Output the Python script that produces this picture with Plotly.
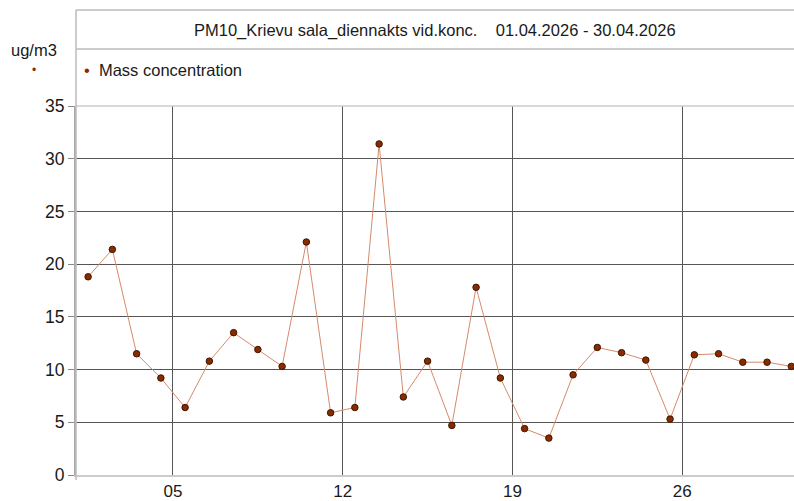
import plotly.graph_objects as go

days = list(range(1, 31))
dates = [f"2026-04-{d:02d} 12:00" for d in days]
values = [18.8, 21.4, 11.5, 9.2, 6.4, 10.8, 13.5, 11.9, 10.3, 22.1,
          5.9, 6.4, 31.4, 7.4, 10.8, 4.7, 17.8, 9.2, 4.4, 3.5,
          9.5, 12.1, 11.6, 10.9, 5.3, 11.4, 11.5, 10.7, 10.7, 10.3]
y_ticks = [0, 5, 10, 15, 20, 25, 30, 35]
title_text = "PM10_Krievu sala_diennakts vid.konc.\u00a0\u00a0\u00a0\u00a001.04.2026 - 30.04.2026"
series_name = "Mass concentration"
unit_label = "ug/m3"

W, H = 794, 501
L, R, T, B = 76, 0, 106, 26
FONT = "Liberation Sans, Arial, sans-serif"
MARKER = "#8a2a00"

fig = go.Figure()
fig.add_trace(go.Scatter(
    x=dates, y=values, mode="lines+markers", name=series_name,
    line=dict(color="#d58a6c", width=1),
    marker=dict(color=MARKER, size=6.5, line=dict(color="#3b1600", width=1)),
    cliponaxis=False, showlegend=False,
))

fig.update_layout(
    width=W, height=H,
    margin=dict(l=L, r=R, t=T, b=B),
    paper_bgcolor="white", plot_bgcolor="white",
    font=dict(family=FONT, size=16, color="#1a1a1a"),
    showlegend=False,
    xaxis=dict(
        type="date",
        range=["2026-04-01 00:00", "2026-04-30 14:40"],
        tick0="2026-04-05", dtick=7 * 24 * 3600 * 1000,
        tickformat="%d",
        showgrid=True, gridcolor="#555555", gridwidth=1,
        showline=True, linecolor="#cccccc", linewidth=2,
        ticks="", zeroline=False,
        tickfont=dict(size=17, family=FONT, color="#1a1a1a"),
    ),
    yaxis=dict(
        range=[0, 35], tickvals=y_ticks,
        showgrid=True, gridcolor="#555555", gridwidth=1,
        showline=True, linecolor="#aaaaaa", linewidth=2,
        ticks="outside", ticklen=6, tickcolor="#888888",
        zeroline=False,
        tickfont=dict(size=17.5, family=FONT, color="#1a1a1a"),
    ),
)

ph = H - T - B


def py(pix):
    """paper y for a pixel row measured from the top of the figure"""
    return 1 + (T - pix) / ph


shapes = [
    dict(type="line", xref="paper", yref="paper", x0=0, x1=1.01,
         y0=py(10), y1=py(10), line=dict(color="#bbbbbb", width=1.5)),
    dict(type="line", xref="paper", yref="paper", x0=0, x1=1.01,
         y0=py(49), y1=py(49), line=dict(color="#bbbbbb", width=1.5)),
    dict(type="line", xref="paper", yref="paper", x0=0, x1=1.01,
         y0=1, y1=1, line=dict(color="#cccccc", width=1.5)),
    dict(type="line", xref="paper", yref="paper", x0=0, x1=0,
         y0=py(480), y1=py(10), line=dict(color="#bbbbbb", width=1.5)),
]
fig.update_layout(shapes=shapes)

pw = W - L - R
fig.add_annotation(
    text=title_text, xref="paper", yref="paper",
    x=0.5, y=py(30), xanchor="center", yanchor="middle",
    showarrow=False, font=dict(size=16.5, family=FONT, color="#1a1a1a"),
)
fig.add_annotation(
    text=f"<span style='color:{MARKER}'>•</span>\u00a0\u00a0{series_name}",
    xref="paper", yref="paper",
    x=(82 - L) / pw, y=py(70), xanchor="left", yanchor="middle",
    showarrow=False, font=dict(size=16.5, family=FONT, color="#1a1a1a"),
)
fig.add_annotation(
    text=unit_label, xref="paper", yref="paper",
    x=-(L - 34) / pw, y=py(50), xanchor="center", yanchor="middle",
    showarrow=False, font=dict(size=16.5, family=FONT, color="#1a1a1a"),
)
fig.add_annotation(
    text="•", xref="paper", yref="paper",
    x=-(L - 34) / pw, y=py(70), xanchor="center", yanchor="middle",
    showarrow=False, font=dict(size=12, family=FONT, color=MARKER),
)

fig.write_html("out.html", config={"displayModeBar": False})

# remove the browser's default page margin so the figure sits at (0, 0)
with open("out.html", encoding="utf-8") as f:
    html = f.read()
html = html.replace("<head>", "<head><style>html,body{margin:0;padding:0;}</style>", 1)
with open("out.html", "w", encoding="utf-8") as f:
    f.write(html)
